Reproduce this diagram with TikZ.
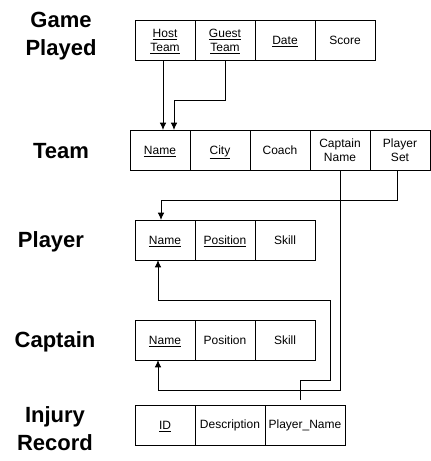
\documentclass[tikz,border=0pt]{standalone}
\usepackage{fontspec}
\setmainfont{Liberation Sans}
\usetikzlibrary{calc,arrows.meta}

\newcommand{\ulkey}[1]{\raisebox{0pt}[\height][0pt]{\underline{#1}}}

\tikzset{every picture/.style={line width=0.75pt}}
\tikzset{
  cell/.style={draw, minimum width=45pt, minimum height=30pt, inner sep=0pt, outer sep=0pt,
    align=center, font=\fontsize{9}{10.5}\selectfont},
  title/.style={inner sep=0pt, align=center, font=\fontsize{16.5}{20.5}\selectfont\bfseries},
  link/.style={-{Latex[length=5.5pt,width=5pt]}},
}

\begin{document}
\begin{tikzpicture}[x=0.75pt,y=0.75pt,yscale=-1,xscale=1]
\useasboundingbox (0,0) rectangle (431,461);

% Titles
\node[title, anchor=base] (tgame) at (61,55) {Game\\Played};
\node[title, anchor=base] (tteam) at (61,158) {Team};
\node[title, anchor=base] (tplayer) at (51,247) {Player};
\node[title, anchor=base] (tcaptain) at (55,347) {Captain};
\node[title, anchor=base] (tinjury) at (55,450) {Injury\\Record};

% Table: Game Played
\node[cell] (host) at (165,40) {\ulkey{Host}\\\ulkey{Team}};
\node[cell] (guest) at (225,40) {\ulkey{Guest}\\\ulkey{Team}};
\node[cell] (gdate) at (285,40) {\ulkey{Date}};
\node[cell] (score) at (345,40) {Score};

% Table: Team
\node[cell] (tname) at (160,150) {\ulkey{Name}};
\node[cell] (tcity) at (220,150) {\ulkey{City}};
\node[cell] (coach) at (280,150) {Coach};
\node[cell] (capn) at (340,150) {Captain\\Name};
\node[cell] (pset) at (400,150) {Player\\Set};

% Table: Player
\node[cell] (pname) at (165,240) {\ulkey{Name}};
\node[cell] (ppos) at (225,240) {\ulkey{Position}};
\node[cell] (pskill) at (285,240) {Skill};

% Table: Captain
\node[cell] (cname) at (165,340) {\ulkey{Name}};
\node[cell] (cpos) at (225,340) {Position};
\node[cell] (cskill) at (285,340) {Skill};

% Table: Injury Record
\node[cell] (iid) at (165,425) {\ulkey{ID}};
\node[cell, minimum width=52.5pt] (idesc) at (230,425) {Description};
\node[cell, minimum width=60pt] (ipn) at (305,425) {Player\_Name};

% Links
\coordinate (hostout) at ($(host.south)+(-2,0)$);
\draw[link] (hostout) -- (hostout |- tname.north);
\draw[link] (guest.south) -- ++(0,40) -| ($(tname.north)+(14,0)$);
\draw[link] ($(pset.south)+(-3,0)$) -- ++(0,30) -| ($(pname.north)+(-4,0)$);
\draw[link] (capn.south) -- ++(0,220) -| ($(cname.south)+(-7,0)$);
\draw[link] ($(ipn.north)+(-4.5,-5)$) -- ++(0,-20) -- ++(30,0) -- ++(0,-80) -| ($(pname.south)+(-7,0)$);

\end{tikzpicture}
\end{document}
